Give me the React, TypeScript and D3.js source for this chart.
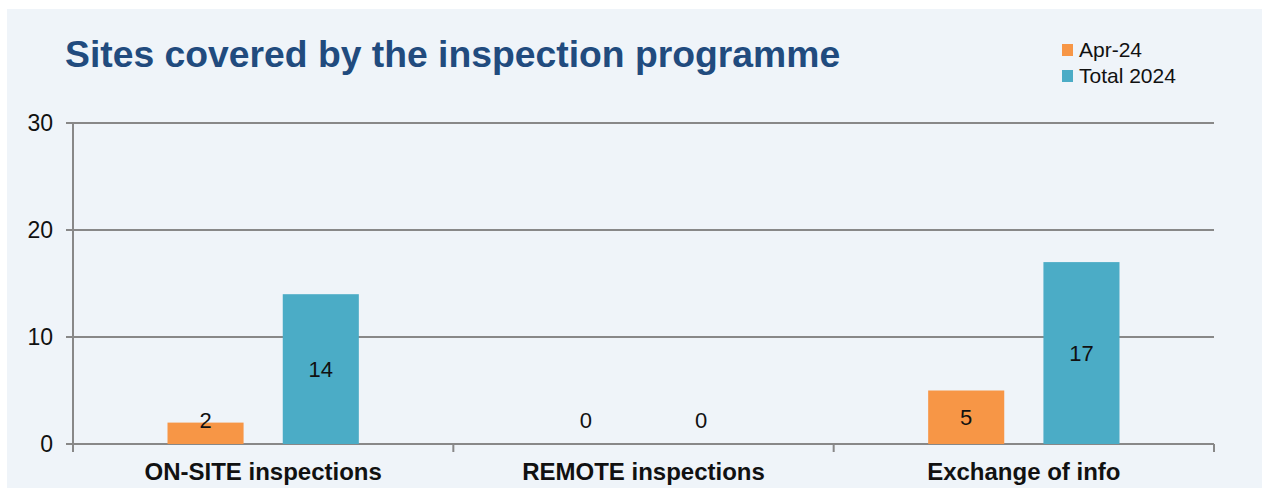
import React from 'react';
import * as d3 from 'd3';

const categories = ['ON-SITE inspections', 'REMOTE inspections', 'Exchange of info'];
const seriesNames = ['Apr-24', 'Total 2024'];
const apr24 = [2, 0, 5];
const total2024 = [14, 0, 17];
const yTicks = [0, 10, 20, 30];
const colors = ['#f79646', '#4bacc6'];

const W = 1266, H = 499;
const margin = { left: 73, right: 52, top: 123, bottom: 55 };

export default function App() {
  const x = d3.scaleBand().domain(categories).range([margin.left, W - margin.right]);
  const x1 = d3.scaleBand().domain(seriesNames).range([0, x.bandwidth()]).paddingInner(0.34).paddingOuter(0.82);
  const y = d3.scaleLinear().domain([0, 30]).range([H - margin.bottom, margin.top]);
  const series = [apr24, total2024];
  const font = 'Arial, "Liberation Sans", sans-serif';
  const y0 = y(0);

  return (
    <svg width={W} height={H} style={{ position: 'absolute', left: 0, top: 0 }} fontFamily={font}>
      <rect x={0} y={0} width={W} height={H} fill="#fff" />
      <rect x={7} y={9} width={1255} height={479} fill="#eff4f9" />
      <text x={65} y={67} fontSize={37.3} fontWeight="bold" fill="#214b7e">Sites covered by the inspection programme</text>

      {seriesNames.map((s, i) => (
        <g key={s} transform={`translate(1062, ${44 + i * 26})`}>
          <rect width={11} height={12} fill={colors[i]} />
          <text x={17} y={6} dy="0.35em" fontSize={21} fill="#111">{s}</text>
        </g>
      ))}

      {yTicks.map(t => (
        <g key={t}>
          <line x1={margin.left - 7} x2={W - margin.right} y1={y(t)} y2={y(t)} stroke="#888" strokeWidth={2} />
          <text x={53} y={y(t)} dy="0.35em" textAnchor="end" fontSize={23} fill="#111">{t}</text>
        </g>
      ))}
      <line x1={margin.left} x2={margin.left} y1={y(30)} y2={y0 + 8} stroke="#888" strokeWidth={2} />
      {categories.map(c => (
        <line key={c} x1={x(c)! + x.bandwidth()} x2={x(c)! + x.bandwidth()} y1={y0} y2={y0 + 8} stroke="#888" strokeWidth={2} />
      ))}

      {categories.map((c, ci) => (
        <g key={c}>
          {seriesNames.map((s, si) => {
            const v = series[si][ci];
            const bx = x(c)! + x1(s)!;
            const top = y(v);
            const ly = Math.min((top + y0) / 2, y0 - 24);
            return (
              <g key={s}>
                {v > 0 && <rect x={bx} y={top} width={x1.bandwidth()} height={y0 - top} fill={colors[si]} />}
                <text x={bx + x1.bandwidth() / 2} y={ly} dy="0.35em" textAnchor="middle" fontSize={22} fill="#111">{v}</text>
              </g>
            );
          })}
          <text x={x(c)! + x.bandwidth() / 2} y={472} dy="0.35em" textAnchor="middle" fontSize={24} fontWeight="bold" fill="#111">{c}</text>
        </g>
      ))}
    </svg>
  );
}
